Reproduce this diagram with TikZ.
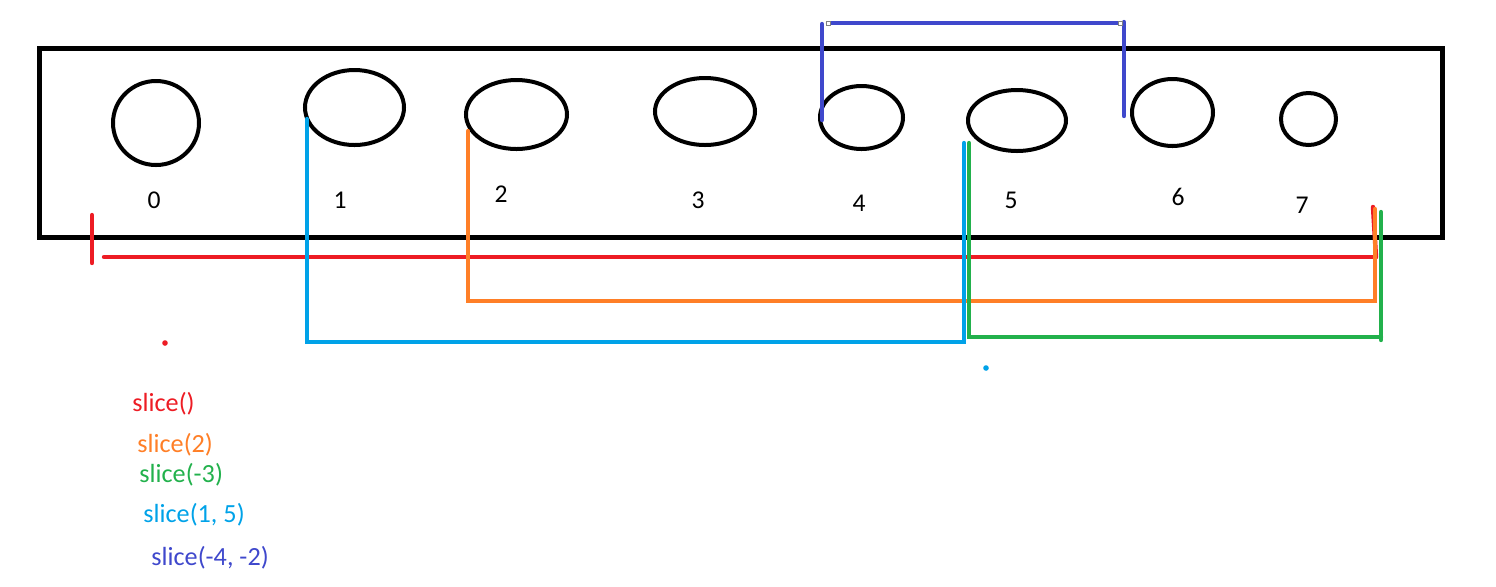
\documentclass[tikz,border=0pt]{standalone}
\usepackage{fontspec}
\setmainfont{Carlito}
\usetikzlibrary{shapes.geometric}
\definecolor{pred}{HTML}{ED1C24}
\definecolor{porange}{HTML}{FF7F27}
\definecolor{pgreen}{HTML}{22B14C}
\definecolor{pcyan}{HTML}{00A2E8}
\definecolor{pblue}{HTML}{3F48CC}
\tikzset{
  hole/.style={ellipse, draw=black, line width=2pt, inner sep=0pt, outer sep=0pt},
  idx/.style={font=\fontsize{12.8}{14}\selectfont, inner sep=0pt},
  lbl/.style={font=\fontsize{13.1}{15}\selectfont, inner sep=0pt, anchor=base west},
  wire/.style={line width=2.2pt, line cap=round},
  handle/.style={draw=gray, fill=white, line width=0.4pt}
}
\begin{document}
\begin{tikzpicture}[x=0.5pt,y=-0.5pt]
\useasboundingbox (0,0) rectangle (1496,586);
% frame
\draw[line width=2.5pt] (39.5,48) rectangle (1442,237);
% holes
\node[hole, minimum width=43pt, minimum height=42pt] (e0) at (156,123) {};
\node[hole, minimum width=49.5pt, minimum height=37.5pt] (e1) at (354.5,107.5) {};
\node[hole, minimum width=50.5pt, minimum height=34.5pt] (e2) at (516.5,114.5) {};
\node[hole, minimum width=50pt, minimum height=33.5pt] (e3) at (705,111.5) {};
\node[hole, minimum width=41.5pt, minimum height=31.5pt] (e4) at (861.5,117.5) {};
\node[hole, minimum width=49pt, minimum height=30.5pt] (e5) at (1017,120.5) {};
\node[hole, minimum width=40.5pt, minimum height=33.5pt] (e6) at (1172.5,112.5) {};
\node[hole, minimum width=27.5pt, minimum height=26pt] (e7) at (1308.5,119) {};
% indices
\node[idx] (n0) at (154,200) {0};
\node[idx] (n1) at (340,200) {1};
\node[idx] (n2) at (501,194) {2};
\node[idx] (n3) at (698,200) {3};
\node[idx] (n4) at (859,203) {4};
\node[idx] (n5) at (1011,200) {5};
\node[idx] (n6) at (1178,197) {6};
\node[idx] (n7) at (1302,205) {7};
% coordinates for brackets
\coordinate (r0) at (92,215);
\coordinate (r1) at (92,263);
\coordinate (r2) at (104,257);
\coordinate (r3) at (1376,257);
\coordinate (r4) at (1373,207);
\coordinate (o0) at (468,131);
\coordinate (o1) at (468,301);
\coordinate (o2) at (1375,301);
\coordinate (o3) at (1375,209);
\coordinate (c0) at (307,119);
\coordinate (c1) at (307,342);
\coordinate (c2) at (964,342);
\coordinate (c3) at (964,143);
\coordinate (g0) at (969,143);
\coordinate (g1) at (969,337);
\coordinate (g2) at (1381,337);
\coordinate (g3) at (1381,340);
\coordinate (g4) at (1381,212);
\coordinate (b0) at (822,120);
\coordinate (b1) at (822,24);
\coordinate (b2) at (828,23);
\coordinate (b3) at (1120,23);
\coordinate (b4) at (1124,22);
\coordinate (b5) at (1124,116);
% red: slice()
\draw[wire, pred] (r0) -- (r1);
\draw[wire, pred] (r2) -- (r3);
\draw[wire, pred] (r4) -- (r3);
\fill[pred] (165,343) circle (1.4pt);
% orange: slice(2)
\draw[wire, porange] (o0) -- (o1) -- (o2) -- (o3);
% cyan: slice(1, 5)
\draw[wire, pcyan] (c0) -- (c1) -- (c2) -- (c3);
\fill[pcyan] (986,368) circle (1.4pt);
% green: slice(-3)
\draw[wire, pgreen] (g0) -- (g1) -- (g2);
\draw[wire, pgreen] (g3) -- (g4);
% blue: slice(-4, -2)
\draw[wire, pblue] (b0) -- (b1);
\draw[wire, pblue] (b2) -- (b3);
\draw[wire, pblue] (b4) -- (b5);
\draw[handle] (826.5,21.5) rectangle (830.5,25.5);
\draw[handle] (1118.5,21.5) rectangle (1122.5,25.5);
% legend
\node[lbl, text=pred] (t0) at (132,411) {slice()};
\node[lbl, text=porange] (t1) at (137,452) {slice(2)};
\node[lbl, text=pgreen] (t2) at (139,482) {slice(-3)};
\node[lbl, text=pcyan] (t3) at (143,522) {slice(1, 5)};
\node[lbl, text=pblue] (t4) at (151,565) {slice(-4, -2)};
\end{tikzpicture}
\end{document}
